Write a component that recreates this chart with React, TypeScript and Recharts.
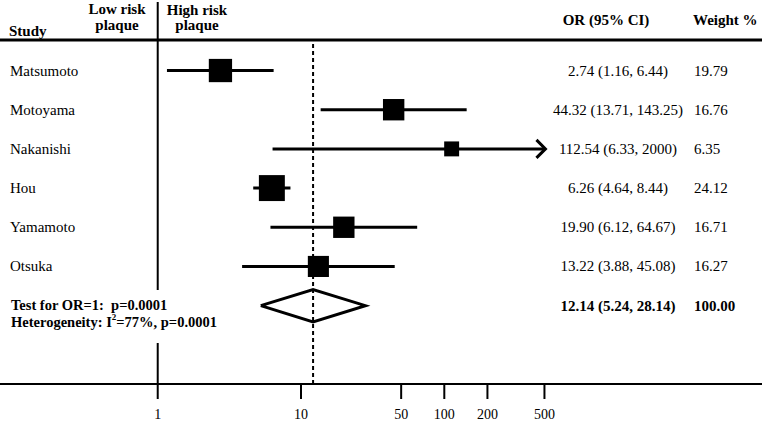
import React from 'react';
import { ComposedChart, Scatter, XAxis, YAxis, ReferenceLine } from 'recharts';

// ---------- data ----------
const studies = ['Matsumoto', 'Motoyama', 'Nakanishi', 'Hou', 'Yamamoto', 'Otsuka'];
const oddsRatios = [2.74, 44.32, 112.54, 6.26, 19.9, 13.22];
const lowerCI = [1.16, 13.71, 6.33, 4.64, 6.12, 3.88];
const upperCI = [6.44, 143.25, 2000, 8.44, 64.67, 45.08];
const weights = [19.79, 16.76, 6.35, 24.12, 16.71, 16.27];
const pooledOR = 12.14;
const pooledLower = 5.24;
const pooledUpper = 28.14;
const pooledWeight = 100;
const xTicks = [1, 10, 50, 100, 200, 500];
const testLine = 'Test for OR=1:  p=0.0001';
const hetPrefix = 'Heterogeneity: I';
const hetSuffix = '=77%, p=0.0001';

// ---------- layout ----------
const W = 762;
const H = 423;
const PLOT_H = 384;
const X_DOMAIN: [number, number] = [0.0793, 16490];
const Y_DOMAIN: [number, number] = [-1.8, 8];
const X_CLIP = 500;
const FONT = '"Liberation Serif", "Times New Roman", serif';
const pxToRow = (p: number) => Y_DOMAIN[0] + (p / PLOT_H) * (Y_DOMAIN[1] - Y_DOMAIN[0]);
const POOLED_ROW = studies.length;
const DIAMOND_HALF = 0.413;

const fmt = (v: number) => (Number.isInteger(v) && v >= 1000 ? String(v) : v.toFixed(2));

const rows = studies.map((s, i) => ({
  x: oddsRatios[i],
  y: i,
  w: weights[i],
  lo: lowerCI[i],
  hi: upperCI[i],
}));
const arrows = rows.filter((r) => r.hi > X_CLIP).map((r) => ({ x: X_CLIP, y: r.y }));
const diamond = [
  { x: pooledLower, y: POOLED_ROW },
  { x: pooledOR, y: POOLED_ROW - DIAMOND_HALF },
  { x: pooledUpper, y: POOLED_ROW },
  { x: pooledOR, y: POOLED_ROW + DIAMOND_HALF },
  { x: pooledLower, y: POOLED_ROW },
];
const textRows = [
  ...studies.map((s, i) => ({
    x: 1,
    y: i,
    name: s,
    ci: `${fmt(oddsRatios[i])} (${fmt(lowerCI[i])}, ${fmt(upperCI[i])})`,
    wt: weights[i].toFixed(2),
    pooled: false,
  })),
  {
    x: 1,
    y: POOLED_ROW,
    name: '',
    ci: `${fmt(pooledOR)} (${fmt(pooledLower)}, ${fmt(pooledUpper)})`,
    wt: pooledWeight.toFixed(2),
    pooled: true,
  },
];

const SquareShape = (props: any) => {
  const { cx, cy, payload } = props;
  const s = 11 + 0.62 * payload.w;
  return <rect x={cx - s / 2} y={cy - s / 2} width={s} height={s} fill="#000" />;
};

const ArrowShape = (props: any) => {
  const { cx, cy } = props;
  return (
    <polyline
      points={`${cx - 8},${cy - 9} ${cx + 1},${cy} ${cx - 8},${cy + 9}`}
      fill="none"
      stroke="#000"
      strokeWidth={3}
    />
  );
};

const Empty = () => <g />;

const TextShape = (props: any) => {
  const { cy, payload } = props;
  const p = payload;
  return (
    <g fontFamily={FONT} fontSize={15} fill="#000">
      {p.pooled ? (
        <g fontWeight="bold" fontSize={14.5}>
          <text x={11} y={cy - 1} dominantBaseline="central" style={{ whiteSpace: 'pre' }}>
            {testLine}
          </text>
          <text x={11} y={cy + 16.5} dominantBaseline="central">
            {hetPrefix}
            <tspan fontSize={9} dy={-5}>2</tspan>
            <tspan dy={5}>{hetSuffix}</tspan>
          </text>
        </g>
      ) : (
        <text x={10} y={cy} dominantBaseline="central">
          {p.name}
        </text>
      )}
      <text
        x={618}
        y={cy}
        textAnchor="middle"
        dominantBaseline="central"
        fontWeight={p.pooled ? 'bold' : 'normal'}
      >
        {p.ci}
      </text>
      <text x={694} y={cy} dominantBaseline="central" fontWeight={p.pooled ? 'bold' : 'normal'}>
        {p.wt}
      </text>
    </g>
  );
};

export default function App() {
  return (
    <div style={{ position: 'absolute', left: 0, top: 0, width: W, height: H, background: '#fff' }}>
      <ComposedChart width={W} height={H} margin={{ top: 0, right: 0, bottom: 0, left: 0 }}>
        <XAxis
          dataKey="x"
          type="number"
          scale="log"
          domain={X_DOMAIN}
          allowDataOverflow
          ticks={xTicks}
          interval={0}
          height={H - PLOT_H}
          axisLine={{ stroke: '#000', strokeWidth: 2 }}
          tickLine={{ stroke: '#000', strokeWidth: 2 }}
          tickSize={15}
          tickMargin={10}
          tick={{ fill: '#000', fontSize: 14, fontFamily: FONT }}
        />
        <YAxis dataKey="y" type="number" domain={Y_DOMAIN} reversed allowDataOverflow hide />
        {/* header rule */}
        <ReferenceLine y={pxToRow(40)} stroke="#000" strokeWidth={3} />
        {/* line of no effect (OR = 1), broken around the summary text */}
        <ReferenceLine
          segment={[{ x: 1, y: pxToRow(2) }, { x: 1, y: pxToRow(290) }]}
          stroke="#000"
          strokeWidth={2}
        />
        <ReferenceLine
          segment={[{ x: 1, y: pxToRow(343) }, { x: 1, y: Y_DOMAIN[1] }]}
          stroke="#000"
          strokeWidth={2}
        />
        {/* pooled estimate dashed line */}
        <ReferenceLine
          segment={[{ x: pooledOR, y: pxToRow(44) }, { x: pooledOR, y: Y_DOMAIN[1] }]}
          stroke="#000"
          strokeWidth={2}
          strokeDasharray="4 3"
        />
        {/* confidence intervals */}
        {rows.map((r) => (
          <ReferenceLine
            key={r.y}
            segment={[{ x: r.lo, y: r.y }, { x: Math.min(r.hi, X_CLIP), y: r.y }]}
            stroke="#000"
            strokeWidth={3}
          />
        ))}
        <Scatter data={rows} dataKey="y" shape={SquareShape} isAnimationActive={false} />
        <Scatter data={arrows} dataKey="y" shape={ArrowShape} isAnimationActive={false} />
        <Scatter
          data={diamond}
          dataKey="y"
          shape={Empty}
          line={{ stroke: '#000', strokeWidth: 3, strokeLinejoin: 'miter', fill: 'none' }}
          lineType="joint"
          isAnimationActive={false}
        />
        <Scatter data={textRows} dataKey="y" shape={TextShape} isAnimationActive={false} />
      </ComposedChart>
      <svg
        width={W}
        height={H}
        style={{ position: 'absolute', left: 0, top: 0, pointerEvents: 'none' }}
        fontFamily={FONT}
        fontSize={15}
        fontWeight="bold"
        fill="#000"
      >
        <text x={9} y={31} dominantBaseline="central">Study</text>
        <text x={117} y={9} textAnchor="middle" dominantBaseline="central">Low risk</text>
        <text x={117} y={25} textAnchor="middle" dominantBaseline="central">plaque</text>
        <text x={197} y={10} textAnchor="middle" dominantBaseline="central">High risk</text>
        <text x={197} y={25} textAnchor="middle" dominantBaseline="central">plaque</text>
        <text x={606} y={20} textAnchor="middle" dominantBaseline="central">OR (95% CI)</text>
        <text x={693} y={20} dominantBaseline="central">Weight %</text>
      </svg>
    </div>
  );
}
